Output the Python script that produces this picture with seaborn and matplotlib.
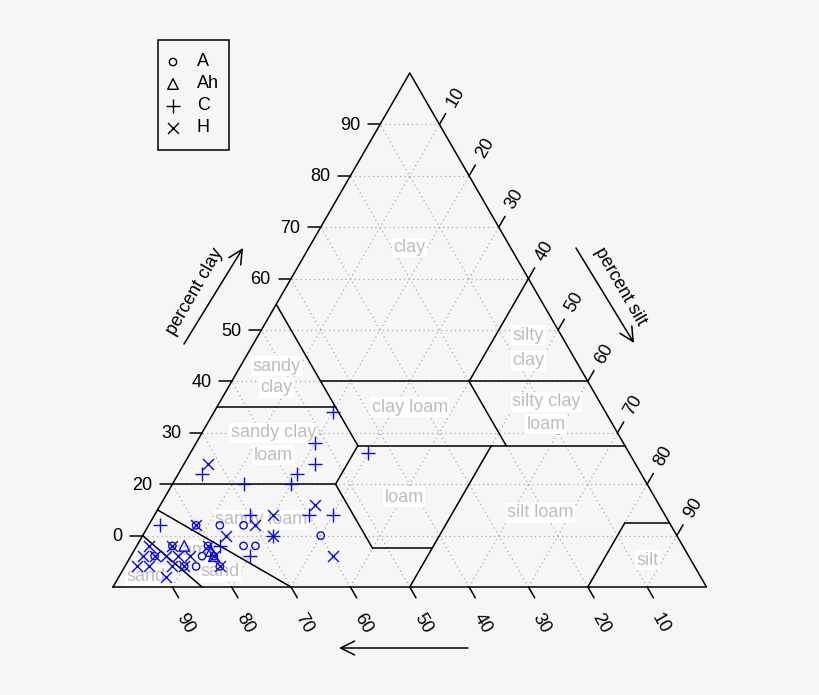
import numpy as np
import pandas as pd
import matplotlib
matplotlib.use("Agg")
import matplotlib.pyplot as plt
from matplotlib.patches import Rectangle
import seaborn as sns

A_sand = [80, 76, 72, 60, 74, 72, 80, 82, 80, 84, 80, 86, 86, 90]
A_clay = [12, 12, 12, 10, 8, 8, 8, 6, 6, 4, 4, 4, 8, 6]
Ah_sand = [84, 80, 80]
Ah_clay = [8, 6, 7]
C_sand = [46, 52, 54, 58, 60, 68, 74, 44, 86, 70, 60, 56, 68, 74, 78]
C_clay = [34, 28, 24, 22, 20, 20, 22, 26, 12, 14, 14, 14, 10, 6, 8]
H_sand = [72, 80, 70, 66, 58, 68, 76, 60, 80, 80, 80, 86, 86, 90, 92, 90, 88, 86, 84, 94, 92, 88, 90]
H_clay = [24, 12, 12, 14, 16, 10, 10, 6, 8, 6, 4, 4, 8, 8, 6, 6, 6, 6, 6, 4, 4, 4, 2]

horizons = ["A", "Ah", "C", "H"]
tick_values = [10, 20, 30, 40, 50, 60, 70, 80, 90]
clay_tick_labels = ["0", "20", "30", "40", "50", "60", "70", "80", "90"]

# USDA texture class boundaries as (sand, clay) end points
class_lines = [
    ((45, 40), (0, 40)), ((20, 40), (0, 60)), ((45, 55), (45, 27.5)),
    ((65, 35), (45, 35)), ((45, 27.5), (0, 27.5)), ((20, 40), (20, 27.5)),
    ((80, 20), (52.5, 20)), ((52.5, 20), (45, 27.5)), ((52.5, 20), (52.5, 7.5)),
    ((52.5, 7.5), (42.5, 7.5)), ((22.5, 27.5), (50, 0)), ((20, 0), (7.5, 12.5)),
    ((7.5, 12.5), (0, 12.5)), ((85, 15), (70, 0)), ((90, 10), (85, 0)),
]

# class names: (text, x, y) in triangle units
class_names = [
    ("clay", 50, 57.2), ("silty", 70, 42.4), ("clay", 70, 38.1),
    ("silty clay", 73, 31.2), ("loam", 73, 27.4), ("clay loam", 50, 30.3),
    ("sandy", 27.5, 37.2), ("clay", 27.5, 33.6), ("sandy clay", 27, 26.0),
    ("loam", 27, 22.2), ("sandy loam", 25, 11.3), ("loamy", 13.5, 6.2),
    ("sand", 18, 2.6), ("sand", 5.5, 1.8), ("loam", 49, 15.1),
    ("silt loam", 72, 12.5), ("silt", 90, 4.5),
]

S = 5.935          # pixels per triangle unit
X0, Y0 = 113, 587  # pixel position of the 100 % sand corner
R3 = np.sqrt(3) / 2


def tern(sand, clay):
    sand = np.asarray(sand, float)
    clay = np.asarray(clay, float)
    return 100 - sand - clay / 2, clay * R3


def px(xp, yp):
    return (xp - X0) / S, (Y0 - yp) / S


rows = []
for h, sa, cl in [("A", A_sand, A_clay), ("Ah", Ah_sand, Ah_clay),
                  ("C", C_sand, C_clay), ("H", H_sand, H_clay)]:
    for s, c in zip(sa, cl):
        rows.append({"horizon": h, "sand": s, "clay": c})
df = pd.DataFrame(rows)
df["silt"] = 100 - df["sand"] - df["clay"]
df["x"], df["y"] = tern(df["sand"], df["clay"])

sns.set_style("white")
plt.rcParams["font.family"] = ["Liberation Sans", "DejaVu Sans"]
plt.rcParams["text.color"] = "black"

bg = "#f6f6f6"
fig = plt.figure(figsize=(8.2, 6.95), dpi=100, facecolor=bg)
ax = fig.add_axes([0, 0, 1, 1])
ax.set_facecolor(bg)
ax.set_xlim(-X0 / S, (820 - X0) / S)
ax.set_ylim((Y0 - 695) / S, Y0 / S)
ax.axis("off")

# dotted grid
gkw = dict(color="#acacac", lw=0.9, ls=(0, (1, 2.6)), zorder=1)
for v in tick_values:
    ax.plot([v / 2, 100 - v / 2], [v * R3, v * R3], **gkw)
    ax.plot([100 - v, (100 - v) / 2], [0, (100 - v) * R3], **gkw)
    ax.plot([v, v + (100 - v) / 2], [0, (100 - v) * R3], **gkw)

# class names
for t, x, y in class_names:
    ax.text(x, y, t, ha="center", va="center", fontsize=13, color="#bdbdbd", zorder=3,
            bbox=dict(facecolor="white", edgecolor="none", pad=1))

# class boundaries and outline
for (s1, c1), (s2, c2) in class_lines:
    xa, ya = tern([s1, s2], [c1, c2])
    ax.plot(xa, ya, color="black", lw=1.1, zorder=4)
ax.plot([0, 100, 50, 0], [0, 0, 100 * R3, 0], color="black", lw=1.1, zorder=4)

# ticks and tick labels
tk = 2.1
c60, s60 = 0.5, R3
for v, lab in zip(tick_values, clay_tick_labels):
    # clay, left edge
    x, y = v / 2, v * R3
    ax.plot([x, x - tk], [y, y], color="black", lw=1.1)
    ax.text(x - 3.4, y - 0.2, lab, ha="right", va="center", fontsize=13)
    # silt, right edge
    x, y = 50 + v / 2, (100 - v) * R3
    ax.plot([x, x + tk * c60], [y, y + tk * s60], color="black", lw=1.1)
    ax.text(x + 5.4 * c60, y + 5.4 * s60, str(v), ha="center", va="center",
            fontsize=13, rotation=60, rotation_mode="anchor")
    # sand, bottom edge
    x, y = 100 - v, 0
    ax.plot([x, x + tk * c60], [y, y - tk * s60], color="black", lw=1.1)
    ax.text(x + 2.2, y - 6.1, str(v), ha="center", va="center",
            fontsize=13, rotation=-60, rotation_mode="anchor")

# axis titles with arrows
akw = dict(arrowstyle="->,head_length=0.5,head_width=0.25", lw=1.1, color="black",
           mutation_scale=20, shrinkA=0, shrinkB=0)
ax.annotate("", xy=px(243, 248), xytext=px(184, 344), arrowprops=akw)
ax.text(*px(195, 292), "percent clay", ha="center", va="center", fontsize=13, rotation=60)
ax.annotate("", xy=px(634, 343), xytext=px(576, 248), arrowprops=akw)
ax.text(*px(620, 287), "percent silt", ha="center", va="center", fontsize=13, rotation=-60)
ax.annotate("", xy=px(339, 648), xytext=px(468, 648), arrowprops=akw)

# samples
markers = {"A": "o", "Ah": "^", "C": "+", "H": "x"}
sizes = {"A": 28, "Ah": 58, "C": 88, "H": 62}
blue = "#0a0ae6"
for h in horizons:
    d = df[df["horizon"] == h]
    if markers[h] in ("o", "^"):
        sns.scatterplot(x=d["x"], y=d["y"], marker=markers[h], s=sizes[h], facecolor="none",
                        edgecolor=blue, linewidth=1.0, ax=ax, zorder=5, legend=False)
    else:
        sns.scatterplot(x=d["x"], y=d["y"], marker=markers[h], s=sizes[h], color=blue,
                        linewidth=1.0, ax=ax, zorder=5, legend=False)

# legend box
lx0, ly0 = px(158, 150)
lx1, ly1 = px(229, 40)
ax.add_patch(Rectangle((lx0, ly0), lx1 - lx0, ly1 - ly0, fill=False, ec="black", lw=1.1))
for h, yp in zip(horizons, [62, 84, 106, 128]):
    mx, my = px(173, yp)
    if markers[h] in ("o", "^"):
        ax.scatter([mx], [my], marker=markers[h], s=sizes[h], facecolor="none",
                   edgecolor="black", linewidth=1.0)
    else:
        ax.scatter([mx], [my], marker=markers[h], s=sizes[h], color="black", linewidth=1.0)
    tx, ty = px(197, yp)
    ax.text(tx, ty, h, ha="left", va="center", fontsize=13)

ax.set_xlabel("")
ax.set_ylabel("")
fig.savefig("out.png", dpi=100, facecolor=bg)
